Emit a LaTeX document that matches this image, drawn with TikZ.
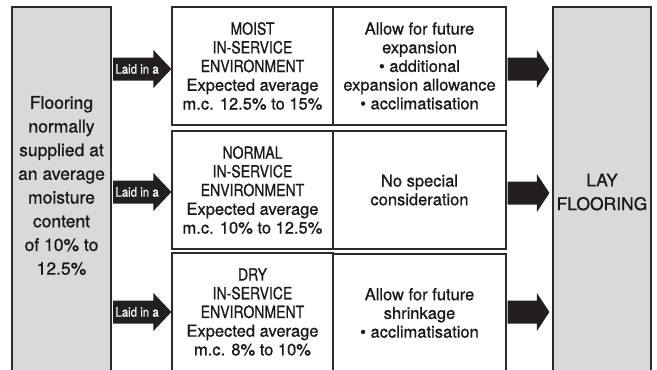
\documentclass[tikz,border=0pt]{standalone}
\usepackage{fontspec}
\setmainfont{TeX Gyre Heros}[FakeBold=0.8]
\usetikzlibrary{calc}
\definecolor{boxgray}{HTML}{D9D9D9}
\definecolor{edgec}{HTML}{2B2B2B}
\definecolor{arrowfill}{HTML}{231F20}
\newcommand{\cp}[1]{\scalebox{0.85}[1.02]{#1}}
\newcommand{\blkarrow}[5]{%
  \fill[arrowfill] ($(#1)+(0,-#3)$) -- ($(#2)+(-#5,-#3)$) -- ($(#2)+(-#5,-#4)$) -- (#2)
    -- ($(#2)+(-#5,#4)$) -- ($(#2)+(-#5,#3)$) -- ($(#1)+(0,#3)$) -- cycle;}
\begin{document}
\begin{tikzpicture}[x=1pt,y=-1pt,
  cell/.style={draw=edgec,line width=1.2pt,minimum height=118pt,inner sep=0pt,align=center,
    font=\fontsize{16.5}{18.7}\selectfont,text=black!90},
  graybox/.style={draw=edgec,line width=1.2pt,fill=boxgray,minimum height=375pt,inner sep=0pt},
  bigtext/.style={align=center,font=\fontsize{17.5}{23.7}\selectfont,inner sep=0pt,text=black!90},
  laid/.style={text=white,font=\fontsize{13}{13}\selectfont,inner sep=0pt}
]
\useasboundingbox (0,0) rectangle (657,370);
\clip (0,0) rectangle (657,370);
\fill[white] (0,0) rectangle (657,370);
% gray boxes
\node[graybox,minimum width=99pt] (L) at (61.5,194.5) {};
\node[bigtext] (Lt) at (61.5,185.5) {Flooring\\normally\\supplied at\\an average\\moisture\\content\\of 10\% to\\12.5\%};
\node[graybox,minimum width=98pt] (R) at (602,194.5) {};
\node[bigtext] (Rt) at (602,192) {LAY\\FLOORING};
% rows
\node[cell,minimum width=161pt] (m1) at (252.5,66) {\cp{MOIST}\\\cp{IN-SERVICE}\\\cp{ENVIRONMENT}\\Expected average\\m.c. 12.5\% to 15\%};
\node[cell,minimum width=173pt] (a1) at (419.5,66) {Allow for future\\expansion\\• additional\\expansion allowance\\• acclimatisation};
\node[cell,minimum width=161pt] (m2) at (252.5,190) {\cp{NORMAL}\\\cp{IN-SERVICE}\\\cp{ENVIRONMENT}\\Expected average\\m.c. 10\% to 12.5\%};
\node[cell,minimum width=173pt] (a2) at (419.5,190) {No special\\consideration};
\node[cell,minimum width=161pt] (m3) at (252.5,312) {\cp{DRY}\\\cp{IN-SERVICE}\\\cp{ENVIRONMENT}\\Expected average\\m.c. 8\% to 10\%};
\node[cell,minimum width=173pt] (a3) at (419.5,313) {Allow for future\\shrinkage\\• acclimatisation};
% left arrows
\coordinate (s1) at ($(L.east |- m1.center)+(1.5,3)$);
\coordinate (s2) at ($(L.east |- m2.center)+(1.5,2)$);
\coordinate (s3) at ($(L.east |- m3.center)+(1.5,0)$);
\coordinate (e1) at (m1.west |- s1);
\coordinate (e2) at (m2.west |- s2);
\coordinate (e3) at (m3.west |- s3);
\blkarrow{s1}{e1}{11.5}{19}{18}
\blkarrow{s2}{e2}{11.5}{19}{18}
\blkarrow{s3}{e3}{11.5}{19}{18}
\node[laid] (l1) at ($(s1)+(24,0)$) {\scalebox{0.88}[1]{Laid in a}};
\node[laid] (l2) at ($(s2)+(24,0)$) {\scalebox{0.88}[1]{Laid in a}};
\node[laid] (l3) at ($(s3)+(24,0)$) {\scalebox{0.88}[1]{Laid in a}};
% right arrows
\coordinate (r1) at ($(a1.east |- s1)+(1,0)$);
\coordinate (r2) at ($(a2.east |- m2.center)+(1,3)$);
\coordinate (r3) at ($(a3.east |- s3)+(1,0)$);
\coordinate (f1) at ($(R.west |- r1)+(-3,0)$);
\coordinate (f2) at ($(R.west |- r2)+(-3,0)$);
\coordinate (f3) at ($(R.west |- r3)+(-3,0)$);
\blkarrow{r1}{f1}{11.5}{19}{12.5}
\blkarrow{r2}{f2}{11.5}{19}{12.5}
\blkarrow{r3}{f3}{11.5}{19}{12.5}
\end{tikzpicture}
\end{document}
